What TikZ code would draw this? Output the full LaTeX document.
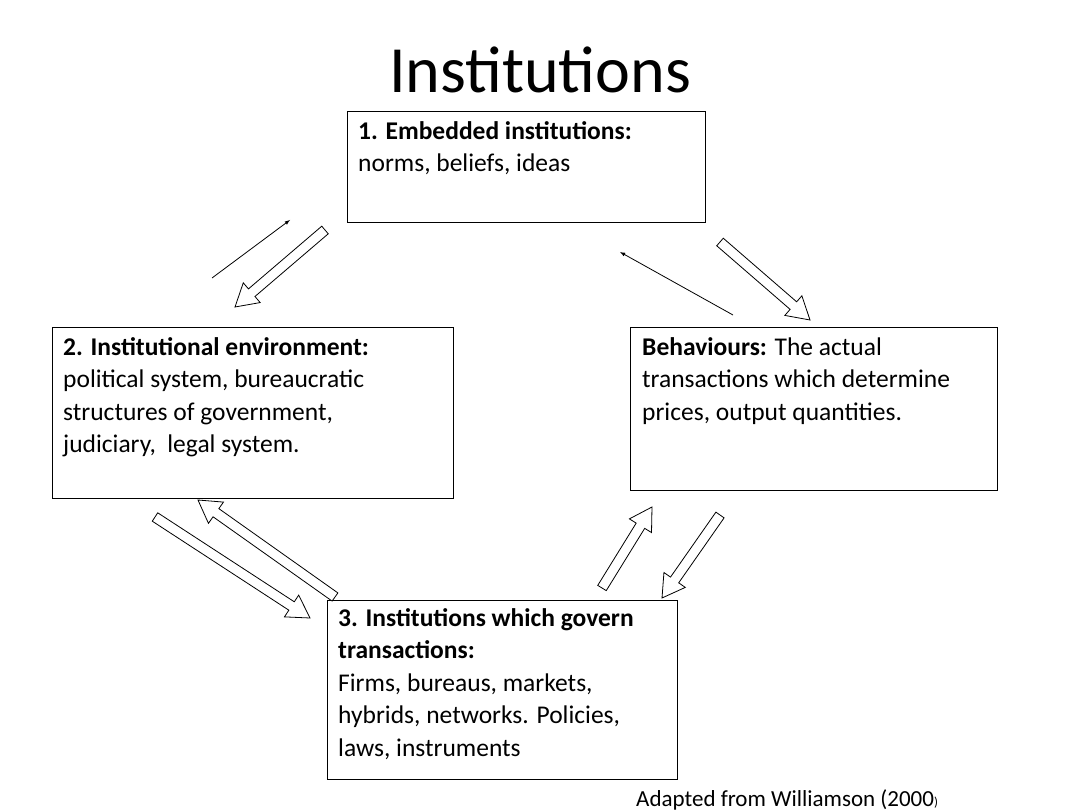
\documentclass[tikz,border=0pt]{standalone}
\usepackage{fontspec}
\setmainfont{Carlito}
\usetikzlibrary{calc}
\newcommand{\hollowarrow}[2]{%
  \coordinate (ha) at #1; \coordinate (hb) at #2;
  \coordinate (hh) at ($(hb)!22pt!(ha)$);
  \draw[fill=white,line width=0.8pt]
   ($(ha)!5pt!90:(hb)$) -- ($(hh)!5pt!90:(hb)$) -- ($(hh)!13pt!90:(hb)$) -- (hb)
   -- ($(hh)!13pt!-90:(hb)$) -- ($(hh)!5pt!-90:(hb)$) -- ($(ha)!5pt!-90:(hb)$) -- cycle;}
\begin{document}
\begin{tikzpicture}[x=1pt,y=-1pt,
  box/.style={draw,line width=0.8pt},
  txt/.style={anchor=north west,inner sep=0pt,align=left,font=\fontsize{25.5}{32.5}\selectfont}]
\useasboundingbox (0,0) rectangle (1080,810);
\node[font=\fontsize{66}{66}\selectfont] (title) at (540,70) {Institutions};
\draw[box] (347,111) rectangle (705,222);
\node[txt] (t1) at (358,121) {\textbf{1. Embedded institutions:}\\norms, beliefs, ideas};
\draw[box] (52,327) rectangle (453,498);
\node[txt] (t2) at (63,337) {\textbf{2. Institutional environment:}\\political system, bureaucratic\\structures of government,\\judiciary,\ \ legal system.};
\draw[box] (630,327) rectangle (997,490);
\node[txt] (tb) at (642,337) {\textbf{Behaviours:} The actual\\transactions which determine\\prices, output quantities.};
\draw[box] (327,600) rectangle (677,779);
\node[txt] (t3) at (338,608) {\textbf{3. Institutions which govern}\\\textbf{transactions:}\\Firms, bureaus, markets,\\hybrids, networks. Policies,\\laws, instruments};
\node[anchor=base west,inner sep=0pt,font=\fontsize{23}{23}\selectfont] (src) at (636,806) {Adapted from Williamson (2000{\fontsize{13}{13}\selectfont)}};
\coordinate (p1) at (212,278); \coordinate (p2) at (290,220);
\draw[-latex,line width=0.8pt] (p1) -- (p2);
\coordinate (q1) at (733,315); \coordinate (q2) at (620,252);
\draw[-latex,line width=0.8pt] (q1) -- (q2);
\hollowarrow{(325,230)}{(235,307)}
\hollowarrow{(720,242)}{(810,320)}
\hollowarrow{(155,517)}{(310,618)}
\hollowarrow{(335,597)}{(198,500)}
\hollowarrow{(602,588)}{(652,507)}
\hollowarrow{(720,515)}{(662,598)}
\end{tikzpicture}
\end{document}
